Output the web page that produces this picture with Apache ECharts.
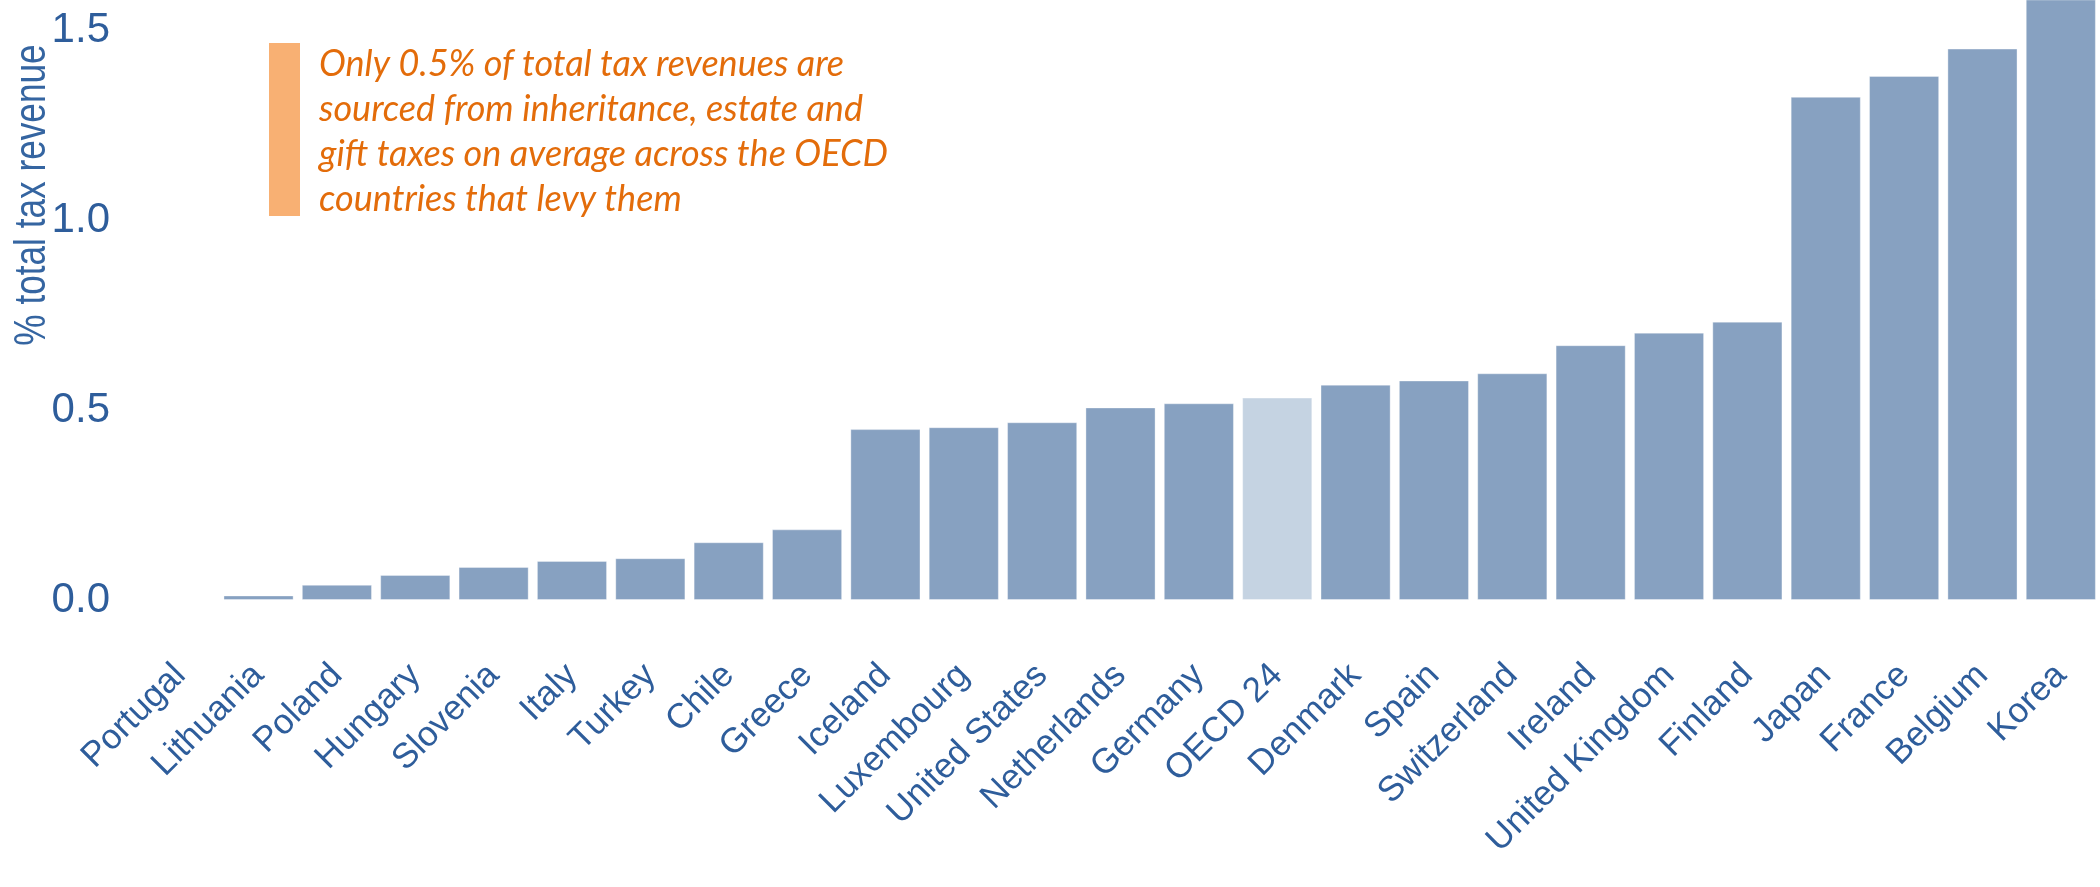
<!DOCTYPE html>
<html>
<head>
<meta charset="utf-8">
<style>
  html, body { margin: 0; padding: 0; background: #ffffff; }
  #chart { width: 2100px; height: 887px; }
</style>
<script src="https://cdn.jsdelivr.net/npm/echarts@6/dist/echarts.min.js"></script>
</head>
<body>
<div id="chart"></div>
<script>
// Inheritance, estate and gift taxes as a share of total tax revenue
const countries = [
  'Portugal', 'Lithuania', 'Poland', 'Hungary', 'Slovenia', 'Italy', 'Turkey',
  'Chile', 'Greece', 'Iceland', 'Luxembourg', 'United States', 'Netherlands',
  'Germany', 'OECD 24', 'Denmark', 'Spain', 'Switzerland', 'Ireland',
  'United Kingdom', 'Finland', 'Japan', 'France', 'Belgium', 'Korea'
];
const shareOfTotalTax = [
  0.00, 0.012, 0.040, 0.066, 0.087, 0.103, 0.110,
  0.152, 0.186, 0.450, 0.455, 0.468, 0.507,
  0.518, 0.533, 0.567, 0.578, 0.597, 0.671,
  0.704, 0.733, 1.325, 1.380, 1.452, 1.62
];
const averageLabel = 'OECD 24';
const yTicks = [0, 0.5, 1.0, 1.5];
const axisTitle = '% total tax revenue';
const noteLines = [
  'Only 0.5% of total tax revenues are',
  'sourced from inheritance, estate and',
  'gift taxes on average across the OECD',
  'countries that levy them'
];

const barColor = '#87a1c1';
const avgColor = '#c5d3e2';
const textBlue = '#2e5d9b';

const chart = echarts.init(document.getElementById('chart'), null, { renderer: 'canvas' });

const barData = countries.map((c, i) => ({
  value: shareOfTotalTax[i],
  itemStyle: { color: c === averageLabel ? avgColor : barColor }
}));

// Callout text, one line per row
const noteGraphics = noteLines.map((line, i) => ({
  type: 'text',
  x: 319,
  y: 64.5 + i * 45.1,
  style: {
    text: line,
    font: 'italic 36px Lato',
    fill: '#e36c0a',
    verticalAlign: 'middle'
  }
}));

chart.setOption({
  animation: false,
  backgroundColor: '#ffffff',
  grid: { left: 141, top: 0, width: 1965, height: 600, containLabel: false },
  xAxis: {
    type: 'category',
    data: countries,
    axisLine: { show: false },
    axisTick: { show: false },
    axisLabel: {
      interval: 0,
      rotate: 45,
      margin: 70,
      color: textBlue,
      fontFamily: 'Liberation Sans, Arial, sans-serif',
      fontSize: 35
    }
  },
  yAxis: {
    type: 'value',
    min: 0,
    max: 1.58,
    interval: 0.5,
    splitLine: { show: false },
    axisLine: { show: false },
    axisTick: { show: false },
    axisLabel: {
      margin: 31,
      color: textBlue,
      fontFamily: 'Liberation Sans, Arial, sans-serif',
      fontSize: 42,
      formatter: v => yTicks.some(t => Math.abs(t - v) < 1e-9) ? v.toFixed(1) : ''
    }
  },
  series: [{
    type: 'bar',
    data: barData,
    barCategoryGap: '10.5%',
    clip: true,
    itemStyle: { borderColor: 'rgba(255,255,255,0.35)', borderWidth: 1 }
  }],
  graphic: [
    {
      // Rotated, condensed axis title
      type: 'text',
      x: 33,
      y: 195,
      rotation: Math.PI / 2,
      scaleX: 0.8,
      style: {
        text: axisTitle,
        font: '44px "Liberation Sans", Arial, sans-serif',
        fill: '#3565a1',
        align: 'center',
        verticalAlign: 'middle'
      }
    },
    {
      type: 'rect',
      shape: { x: 269, y: 43, width: 31, height: 173 },
      style: { fill: '#f8b073' }
    }
  ].concat(noteGraphics)
});
</script>
</body>
</html>
